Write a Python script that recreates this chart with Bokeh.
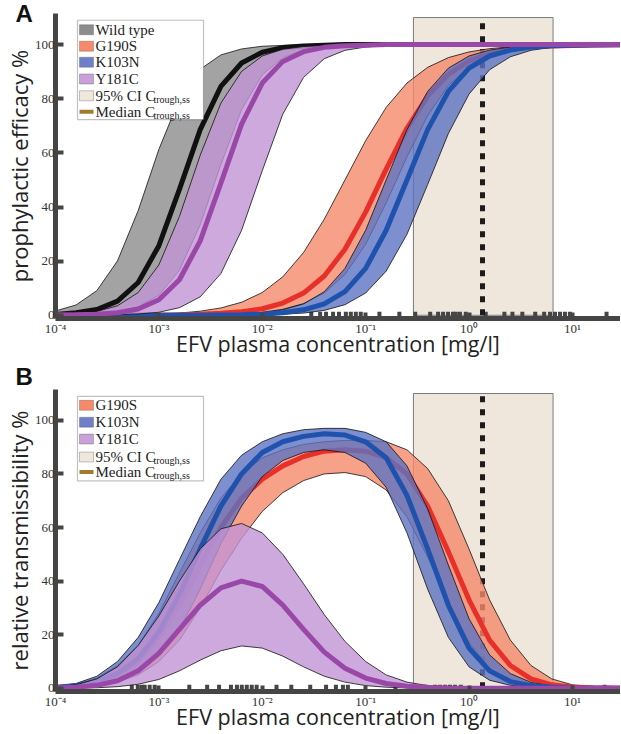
from bokeh.plotting import figure
from bokeh.models import Range1d, FixedTicker, CustomJSTickFormatter, Label, BoxAnnotation
from bokeh.layouts import column
from bokeh.embed import file_html
from bokeh.resources import INLINE

# ---------------- data ----------------
conc = [0.0001, 0.000158, 0.000251, 0.000398, 0.000631, 0.001, 0.00158, 0.00251, 0.00398, 0.00631,
        0.01, 0.0158, 0.0251, 0.0398, 0.0631, 0.1, 0.158, 0.251, 0.398, 0.631,
        1.0, 1.58, 2.51, 3.98, 6.31, 10.0, 15.8, 29.2]

# Panel A: prophylactic efficacy (%)
wt_med = [0.3, 0.9, 2.1, 5.2, 12.1, 25.7, 46.5, 68.6, 84.6, 93.2, 97.2, 98.9, 99.5, 99.8,
          100, 100, 100, 100, 100, 100, 100, 100, 100, 100, 100, 100, 100, 100]
wt_hi = [1.6, 3.8, 9.1, 20.1, 38.7, 61.3, 79.9, 90.9, 96.2, 98.4, 99.4, 99.7, 99.9, 100,
         100, 100, 100, 100, 100, 100, 100, 100, 100, 100, 100, 100, 100, 100]
wt_lo = [0.1, 0.2, 0.5, 1.2, 3.1, 7.4, 16.6, 33.4, 55.7, 76.0, 88.8, 95.2, 98.0, 99.2,
         99.7, 99.9, 100, 100, 100, 100, 100, 100, 100, 100, 100, 100, 100, 100]
y181c_med = [0.1, 0.2, 0.4, 0.9, 2.3, 5.7, 13.1, 27.5, 48.8, 70.6, 85.8, 93.8, 97.4, 99.0,
             99.6, 99.8, 100, 100, 100, 100, 100, 100, 100, 100, 100, 100, 100, 100]
y181c_hi = [0.2, 0.6, 1.4, 3.5, 8.4, 18.6, 36.5, 59.1, 78.4, 90.1, 95.8, 98.3, 99.3, 99.7,
            99.9, 100, 100, 100, 100, 100, 100, 100, 100, 100, 100, 100, 100, 100]
y181c_lo = [0.0, 0.0, 0.1, 0.2, 0.5, 1.1, 2.8, 6.8, 15.4, 31.4, 53.4, 74.3, 87.9, 94.8,
            97.9, 99.1, 99.7, 99.9, 100, 100, 100, 100, 100, 100, 100, 100, 100, 100]
g190s_med = [0.0, 0.0, 0.0, 0.0, 0.05, 0.1, 0.2, 0.35, 0.7, 1.3, 2.4, 4.5, 8.2, 14.5,
             24.4, 38.1, 54.0, 69.1, 81.0, 89.0, 93.9, 96.7, 98.3, 99.1, 99.5, 99.7, 99.9, 100]
g190s_hi = [0.0, 0.0, 0.1, 0.1, 0.3, 0.5, 0.8, 1.5, 2.7, 4.8, 8.4, 14.2, 23.2, 35.5,
            50.0, 64.5, 76.8, 85.8, 91.6, 95.2, 97.3, 98.5, 99.2, 99.5, 99.7, 99.9, 99.9, 100]
g190s_lo = [0.0, 0.0, 0.0, 0.0, 0.0, 0.0, 0.1, 0.1, 0.3, 0.6, 1.1, 2.2, 4.3, 8.2,
            15.1, 26.2, 41.5, 58.5, 73.8, 84.9, 91.8, 95.7, 97.8, 98.9, 99.4, 99.7, 99.9, 100]
k103n_med = [0.0, 0.0, 0.0, 0.0, 0.0, 0.0, 0.0, 0.0, 0.1, 0.2, 0.4, 0.9, 2.0, 4.2,
             8.7, 17.3, 31.4, 50.0, 68.6, 82.7, 91.3, 95.8, 98.0, 99.1, 99.6, 99.8, 99.9, 100]
k103n_hi = [0.0, 0.0, 0.0, 0.0, 0.0, 0.0, 0.0, 0.1, 0.2, 0.4, 0.9, 2.0, 4.2, 8.7,
            17.3, 31.4, 50.0, 68.6, 82.7, 91.3, 95.8, 98.0, 99.1, 99.6, 99.8, 99.9, 100, 100]
k103n_lo = [0.0, 0.0, 0.0, 0.0, 0.0, 0.0, 0.0, 0.0, 0.0, 0.1, 0.2, 0.4, 0.8, 1.8,
            3.9, 8.2, 16.3, 29.9, 48.3, 67.1, 81.7, 90.7, 95.5, 97.9, 99.0, 99.6, 99.8, 99.9]

# Panel B: relative transmissibility (%)
g190s_med_b = [0.3, 0.9, 2.3, 5, 10, 19, 31, 46, 60, 71, 78, 83, 86.5, 88.5,
               89, 88.5, 86, 80, 68, 51, 33, 18, 8.5, 3.5, 1.3, 0.5, 0.2, 0]
g190s_hi_b = [0.5, 1.5, 3.8, 8.5, 16, 28, 43, 58, 71, 80, 86, 89, 91, 92,
              92.5, 92.5, 92, 89, 82, 70, 52, 33, 18, 8.5, 3.5, 1.3, 0.5, 0.1]
g190s_lo_b = [0.1, 0.4, 1, 2.3, 5, 10, 18, 30, 44, 56, 66, 73, 77.5, 80,
              80.5, 79, 74, 64, 49, 32, 17, 7.5, 3, 1.1, 0.4, 0.1, 0, 0]
k103n_med_b = [0.3, 1.0, 2.5, 5.5, 11, 21, 35, 52, 68, 80, 88, 92, 94, 95,
               94.5, 92, 86, 72, 52, 31, 15, 6.5, 2.5, 1.0, 0.4, 0.1, 0, 0]
k103n_hi_b = [0.6, 1.8, 4.5, 10, 19, 32, 48, 64, 78, 87, 92, 95, 96.5, 97,
              97, 95.5, 92, 83, 67, 46, 26, 12.5, 5.5, 2.2, 0.8, 0.3, 0.1, 0]
k103n_lo_b = [0.1, 0.4, 1.1, 2.6, 5.8, 12, 22, 37, 54, 68, 79, 85, 88, 89,
              88, 84, 75, 58, 37, 19, 8, 3, 1.1, 0.4, 0.1, 0, 0, 0]
y181c_med_b = [0.1, 0.4, 1.1, 2.8, 6.5, 13, 22, 31, 37.5, 40, 38, 31, 22, 13.5,
               7.5, 3.8, 1.8, 0.8, 0.3, 0.1, 0, 0, 0, 0, 0, 0, 0, 0]
y181c_hi_b = [0.4, 1.3, 3.5, 8, 16, 27, 40, 52, 59.5, 61.5, 58, 50, 39, 27.5,
              17.5, 10, 5, 2.3, 1, 0.4, 0.1, 0, 0, 0, 0, 0, 0, 0]
y181c_lo_b = [0, 0.1, 0.2, 0.6, 1.5, 3.3, 6.5, 10.5, 14, 15.8, 15, 12, 8, 4.5,
              2.3, 1, 0.4, 0.1, 0, 0, 0, 0, 0, 0, 0, 0, 0, 0]

# trough concentration summary (mg/l)
ci_low, ci_high, c_median = 0.29, 6.5, 1.35

# observed trough concentrations (rug marks)
rug_a = [0.0298, 0.0363, 0.0414, 0.0484, 0.0552, 0.0644, 0.0719, 0.0804, 0.0897, 0.136, 0.212,
         0.302, 0.421, 0.502, 0.561, 0.627, 0.700, 0.746, 0.817, 0.931, 1.45, 2.20, 2.63,
         3.28, 4.37, 5.33, 6.08, 6.79, 7.59, 8.47, 9.46, 21.4]
rug_b = [0.000547, 0.000625, 0.000682, 0.000729, 0.000815, 0.00091, 0.00197, 0.00293, 0.00382,
         0.00498, 0.00569, 0.00634, 0.00708, 0.00791, 0.00883, 0.01374, 0.0191, 0.0291, 0.0414,
         0.0516, 0.0603, 0.0673, 0.1945, 0.296, 0.385, 0.47, 0.525, 0.586, 0.655, 0.731, 0.834,
         1.355, 9.25, 20.5]

x_ticks = [1e-4, 1e-3, 1e-2, 1e-1, 1, 10]
y_ticks = [0, 20, 40, 60, 80, 100]

# ---------------- style ----------------
COL = {
    "wt": ("#8c8c8c", "#111111"),
    "g190s": ("#f5896a", "#e8302a"),
    "k103n": ("#5d73c2", "#1f52ad"),
    "y181c": ("#c293d4", "#9a48a8"),
}
BAND_ALPHA = 0.8
AX = "#454545"
BEIGE = "#efe7dc"
BROWN = "#a47a2c"

fmt = CustomJSTickFormatter(code="""
const sup = {"-": "\u207b", "0": "\u2070", "1": "\u00b9", "2": "\u00b2", "3": "\u00b3",
             "4": "\u2074", "5": "\u2075", "6": "\u2076", "7": "\u2077", "8": "\u2078", "9": "\u2079"};
const e = Math.round(Math.log10(tick));
return "10" + String(e).split("").map(c => sup[c]).join("");
""")


def make_fig(height, top, ylabel, letter, letter_standoff):
    p = figure(width=620, height=height, x_axis_type="log",
               x_range=Range1d(1e-4, 29.2), y_range=Range1d(-1.2, 111.5),
               output_backend="svg", toolbar_location=None,
               min_border_left=50, min_border_right=0, min_border_bottom=0, min_border_top=top)
    p.outline_line_color = None
    p.xgrid.visible = False
    p.ygrid.visible = False
    p.background_fill_color = "white"
    p.title.text = letter
    p.title.align = "left"
    p.title.vertical_align = "bottom"
    p.title.offset = -40
    p.title.standoff = letter_standoff
    p.title.text_font = "Liberation Sans"
    p.title.text_font_size = "24px"
    p.title.text_font_style = "bold"
    p.title.text_color = "#111111"
    for ax in (p.xaxis[0], p.yaxis[0]):
        ax.axis_line_width = 5
        ax.axis_line_color = AX
        ax.major_tick_line_width = 4
        ax.major_tick_line_color = AX
        ax.major_tick_out = 0
        ax.minor_tick_line_color = None
        ax.major_label_text_font = "Liberation Serif"
        ax.major_label_text_font_size = "13px"
        ax.major_label_text_color = "#333333"
        ax.axis_label_text_font = "Open Sans"
        ax.axis_label_text_font_style = "normal"
        ax.axis_label_text_color = "#222222"
    p.xaxis[0].axis_label_text_font_size = "21.5px"
    p.yaxis[0].axis_label_text_font_size = "22px"
    p.xaxis[0].major_tick_in = 6
    p.yaxis[0].major_tick_in = 8
    p.xaxis[0].ticker = FixedTicker(ticks=x_ticks, minor_ticks=[])
    p.xaxis[0].formatter = fmt
    p.yaxis[0].ticker = FixedTicker(ticks=y_ticks, minor_ticks=[])
    p.xaxis[0].major_label_standoff = 2
    p.yaxis[0].major_label_standoff = 1
    p.xaxis[0].axis_label_standoff = -10
    p.yaxis[0].axis_label_standoff = -2
    p.xaxis[0].axis_label = "EFV plasma concentration [mg/l]"
    p.yaxis[0].axis_label = ylabel
    return p


def add_ci(p, rug):
    p.quad(left=[ci_low], right=[ci_high], bottom=[0], top=[110], fill_color=BEIGE,
           line_color="#7a7a7a", line_width=1)
    p.segment(x0=rug, y0=[-1.2] * len(rug), x1=rug, y1=[1.3] * len(rug),
              line_color=AX, line_width=4, line_cap="butt")
    p.segment(x0=[c_median], y0=[0], x1=[c_median], y1=[110], line_color="#1c1c1c",
              line_width=5, line_dash="6 7", line_cap="butt")


def add_band(p, lo, hi, med, key):
    fill, line = COL[key]
    p.varea(x=conc, y1=lo, y2=hi, fill_color=fill, fill_alpha=BAND_ALPHA)
    p.line(conc, lo, line_color="#111111", line_width=0.8)
    p.line(conc, hi, line_color="#111111", line_width=0.8)
    p.line(conc, med, line_color=line, line_width=5)


def add_legend(p, entries, top, bottom, rows):
    p.add_layout(BoxAnnotation(left=22, right=148, left_units="screen", right_units="screen",
                               top=top, bottom=bottom, fill_color="white", fill_alpha=1,
                               line_color="#333333", line_width=1.2, level="annotation"))
    for (text, kind, color), y in zip(entries, rows):
        if kind == "patch":
            p.add_layout(BoxAnnotation(left=24, right=38, left_units="screen", right_units="screen",
                                       top=y + 1.85, bottom=y - 1.85, fill_color=color, fill_alpha=1,
                                       line_color="#444444", line_width=1))
        else:
            p.add_layout(BoxAnnotation(left=24, right=38, left_units="screen", right_units="screen",
                                       top=y + 0.75, bottom=y - 0.75, fill_color=color, fill_alpha=1,
                                       line_color=None))
        p.add_layout(Label(x=40, y=y, x_units="screen", text=text, text_font="Liberation Serif",
                           text_font_size="15px", text_baseline="middle", text_color="#222222"))
        if text.endswith(" C"):
            p.add_layout(Label(x=98, y=y - 1.3, x_units="screen", text="trough,ss",
                               text_font="Liberation Serif", text_font_size="10px",
                               text_baseline="middle", text_color="#222222"))


# ---------------- panel A ----------------
pA = make_fig(360, 13, "prophylactic efficacy %", "A", -27)
add_ci(pA, rug_a)
add_band(pA, wt_lo, wt_hi, wt_med, "wt")
add_band(pA, g190s_lo, g190s_hi, g190s_med, "g190s")
add_band(pA, k103n_lo, k103n_hi, k103n_med, "k103n")
add_band(pA, y181c_lo, y181c_hi, y181c_med, "y181c")
add_legend(pA, [("Wild type", "patch", "#8c8c8c"), ("G190S", "patch", "#f5896a"),
                ("K103N", "patch", "#7080c8"), ("Y181C", "patch", "#c9a0d8"),
                ("95% CI C", "patch", BEIGE), ("Median C", "line", BROWN)],
           109, 72.3, [105.5, 99.4, 93.5, 87.3, 81.1, 75.2])

# ---------------- panel B ----------------
pB = make_fig(373, 29, "relative transmissibility %", "B", -1)
add_ci(pB, rug_b)
add_band(pB, g190s_lo_b, g190s_hi_b, g190s_med_b, "g190s")
add_band(pB, k103n_lo_b, k103n_hi_b, k103n_med_b, "k103n")
add_band(pB, y181c_lo_b, y181c_hi_b, y181c_med_b, "y181c")
add_legend(pB, [("G190S", "patch", "#f5896a"), ("K103N", "patch", "#7080c8"),
                ("Y181C", "patch", "#c9a0d8"), ("95% CI C", "patch", BEIGE),
                ("Median C", "line", BROWN)],
           108.9, 77.4, [105.6, 99.3, 93.0, 86.3, 80.7])

layout = column(pA, pB, spacing=0)
open("out.html", "w").write(file_html(layout, INLINE))
